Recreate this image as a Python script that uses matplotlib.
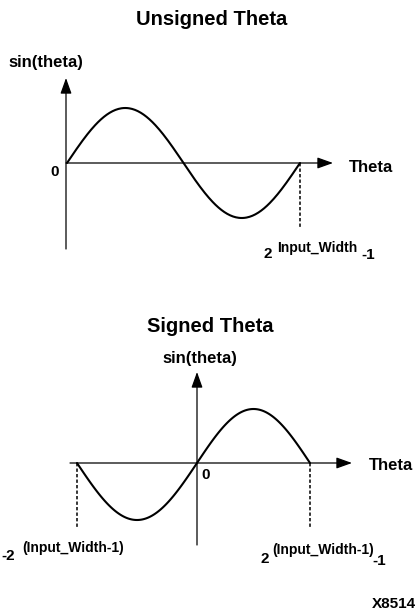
import numpy as np
import matplotlib
matplotlib.use("Agg")
import matplotlib.pyplot as plt
from matplotlib.transforms import Affine2D

# ---- data ----
# phase as fraction of one full period
phase_unsigned = np.linspace(0.0, 1.0, 241)
phase_signed_neg = np.linspace(-0.5, 0.0, 121)
phase_signed_pos = np.linspace(0.0, 0.5, 121)
sin_unsigned = np.sin(2 * np.pi * phase_unsigned)
sin_signed_neg = np.sin(2 * np.pi * phase_signed_neg)
sin_signed_pos = np.sin(2 * np.pi * phase_signed_pos)

title_top = "Unsigned Theta"
title_bottom = "Signed Theta"
y_label = "sin(theta)"
x_label = "Theta"
zero_label = "0"
top_end_label = ("2", "Input_Width", "-1")
bot_start_label = ("-2", "(Input_Width-1)")
bot_end_label = ("2", "(Input_Width-1)", "-1")
figure_id = "X8514"

FONT = "Liberation Sans"

fig = plt.figure(figsize=(4.17, 6.13), dpi=100)
ax = fig.add_axes([0, 0, 1, 1])
ax.set_xlim(0, 417)
ax.set_ylim(613, 0)
ax.axis("off")

def txt(x, y, s, size, ha="left", va="baseline"):
    ax.text(x, y, s, fontsize=size, fontweight="bold", family=FONT,
            ha=ha, va=va, color="black")

def arrow(start, tip):
    ax.annotate("", xy=tip, xytext=start,
                arrowprops=dict(arrowstyle="-|>,head_length=0.95,head_width=0.34",
                                mutation_scale=10, lw=0.9, color="black",
                                shrinkA=0, shrinkB=0))

dash = (0, (2.2, 1.4))

# ---- top panel: unsigned ----
T_top = Affine2D().scale(233, -55).translate(67, 163) + ax.transData
arrow((66, 249), (66, 78))
arrow((66, 163), (333, 163))
ax.plot(phase_unsigned, sin_unsigned, transform=T_top, color="black", lw=1.5,
        solid_capstyle="round")
ax.plot([300.5, 300.5], [163, 228], color="black", lw=1.1, linestyle=dash)

txt(212, 25, title_top, 14.5, ha="center")
txt(8, 67, y_label, 12)
txt(349, 172, x_label, 12)
txt(55, 176, zero_label, 11, ha="center")
txt(264, 258, top_end_label[0], 11)
txt(277, 252, top_end_label[1], 10)
txt(361, 259, top_end_label[2], 11)

# ---- bottom panel: signed ----
T_neg = Affine2D().scale(240, -57).translate(197, 463) + ax.transData
T_pos = Affine2D().scale(226, -54).translate(197, 463) + ax.transData
arrow((197, 545), (197, 372))
arrow((70, 463), (352, 463))
ax.plot(phase_signed_neg, sin_signed_neg, transform=T_neg, color="black", lw=1.5,
        solid_capstyle="round")
ax.plot(phase_signed_pos, sin_signed_pos, transform=T_pos, color="black", lw=1.5,
        solid_capstyle="round")
ax.plot([77.5, 77.5], [463, 528], color="black", lw=1.1, linestyle=dash)
ax.plot([310.5, 310.5], [463, 528], color="black", lw=1.1, linestyle=dash)

txt(210, 332, title_bottom, 14.5, ha="center")
txt(200, 363, y_label, 12, ha="center")
txt(369, 470, x_label, 12)
txt(206, 479, zero_label, 11, ha="center")
txt(1, 560, bot_start_label[0], 11)
txt(22, 552, bot_start_label[1], 10)
txt(261, 563, bot_end_label[0], 11)
txt(272, 554, bot_end_label[1], 10)
txt(372, 565, bot_end_label[2], 11)

txt(416, 608, figure_id, 11, ha="right")

fig.savefig("out.png", dpi=100)
